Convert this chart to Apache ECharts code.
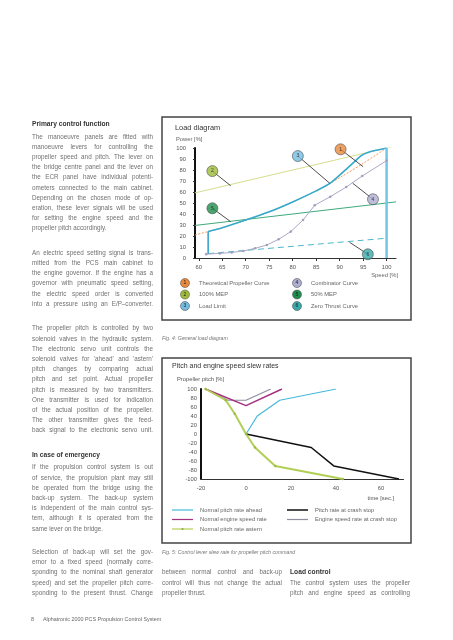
<!DOCTYPE html>
<html><head><meta charset="utf-8">
<script src="https://cdn.jsdelivr.net/npm/echarts@6/dist/echarts.min.js"></script>
<style>
html,body{margin:0;padding:0;background:#fff;}
#page{position:relative;width:453px;height:640px;overflow:hidden;font-family:"Liberation Sans",Arial,sans-serif;color:#707070;}
.ln{position:absolute;white-space:nowrap;font-size:6.3px;line-height:10px;height:10px;}
.h{font-weight:bold;color:#333;font-size:6.7px;}
.cap{font-style:italic;font-size:5.2px;color:#777;}
.foot{font-size:5.4px;color:#666;}
#chart{position:absolute;left:0;top:0;width:453px;height:640px;}
</style></head>
<body><div id="page"><div id="chart"></div></div>
<script>
// ---------- Load diagram data (speed %, power %) ----------
const xTicks1 = [60, 65, 70, 75, 80, 85, 90, 95, 100];
const propCurve = [[59.2,21],[62,24],[65,27.5],[70,34.3],[75,42],[80,51],[85,61],[90,73],[95,86],[100,100]];
const mep100 = [[59.2,59.2],[102,102]];
const mep50 = [[59.2,29.6],[102,51]];
const loadLimit = [[62,24],[65,27.5],[70,34.5],[75,42],[80,51],[85,61],[88,68],[92,83],[94.6,93],[96,96],[100,100]];
const loadLimitLow = [[62,4],[62,24]];
const loadLimitMax = [[100,100],[100,0]];
const combinator = [[61.6,3.5],[64.5,4.2],[67,5],[69.5,6.4],[72,8.8],[74.5,11.8],[77,17],[79.6,24],[82.2,34.5],[84.7,48],[88,55.7],[91.4,64.5],[94.8,74.5],[100,88.5]];
const zeroThrust = [[62,4],[100,18]];
const calloutNums = ['1','2','3','4','5','6'];
const calloutPos = [[90.2,98.8],[62.9,79],[81.1,92.7],[97.1,53.4],[62.9,45.2],[96,3.4]];
const calloutEnd = [[95,83],[66.8,65.7],[87.9,67.9],[92.8,67.9],[66.8,33],[92.1,14.3]];
const calloutColors = ['#e8893c','#9fbb3c','#74bde0','#aeaed2','#1f8d4c','#3aa9aa'];
const legend1Names = ['Theoretical Propeller Curve','100% MEP','Load Limit','Combinator Curve','50% MEP','Zero Thrust Curve'];

// ---------- Slew rate data (time s, pitch %) ----------
const xTicks2 = [-20, 0, 20, 40, 60];
const pitchAhead = [[0,0],[5,40],[15,75],[40,100]];
const engineNormal = [[-18,100],[0,63],[16,100]];
const pitchAstern = [[-18,100],[-9,75],[-5,45],[0,0],[4,-30],[13,-71],[43,-100]];
const pitchCrash = [[0,0],[29,-30],[39,-71],[68,-100]];
const engineCrash = [[-18,100],[-8,75],[0,75],[11,100]];
const legend2Names = ['Normal pitch rate ahead','Normal engine speed rate','Normal pitch rate astern','Pitch rate at crash stop','Engine speed rate at crash stop'];
const legend2Colors = ['#45b9dc','#a4307f','#b2cf55','#111111','#8f8fa0'];

// ---------- body text ----------
const page = document.getElementById('page');
const LH = 10.2, PG = 24.5, HG = 12.5;
function put(x, yc, text, cls, w) {
  const d = document.createElement('div');
  d.className = 'ln ' + cls;
  d.textContent = text;
  d.style.left = x + 'px';
  d.style.top = (yc - 5) + 'px';
  page.appendChild(d);
  if (w) {
    const nat = d.getBoundingClientRect().width;
    const n = (text.match(/ /g) || []).length;
    if (n) d.style.wordSpacing = ((w - nat) / n) + 'px';
  }
}
function para(x, y, w, lines, lastJust) {
  lines.forEach((t, i) => put(x, y + i * LH, t, '', (i < lines.length - 1 || lastJust) ? w : 0));
  return y + (lines.length - 1) * LH;
}
const LX = 32, LW = 121;
let y = 124;
put(LX, y, 'Primary control function', 'h');
y = para(LX, y + HG, LW, [
 'The manoeuvre panels are fitted with','manoeuvre levers for controlling the','propeller speed and pitch. The lever on',
 'the bridge centre panel and the lever on','the ECR panel have individual potenti-','ometers connected to the main cabinet.',
 'Depending on the chosen mode of op-','eration, these lever signals will be used','for setting the engine speed and the',
 'propeller pitch accordingly.']);
y = para(LX, y + PG, LW, [
 'An electric speed setting signal is trans-','mitted from the PCS main cabinet to','the engine governor. If the engine has a',
 'governor with pneumatic speed setting,','the electric speed order is converted','into a pressure using an E/P–converter.'], true);
y = para(LX, y + PG, LW, [
 'The propeller pitch is controlled by two','solenoid valves in the hydraulic system.','The electronic servo unit controls the',
 "solenoid valves for 'ahead' and 'astern'",'pitch changes by comparing actual','pitch and set point. Actual propeller',
 'pitch is measured by two transmitters.','One transmitter is used for indication','of the actual position of the propeller.',
 'The other transmitter gives the feed-','back signal to the electronic servo unit.'], true);
y += PG;
put(LX, y, 'In case of emergency', 'h');
y = para(LX, y + HG, LW, [
 'If the propulsion control system is out','of service, the propulsion plant may still','be operated from the bridge using the',
 'back-up system. The back-up system','is independent of the main control sys-','tem, although it is operated from the',
 'same lever on the bridge.']);
const ySel = y + PG - 1;
para(LX, ySel, LW, [
 'Selection of back-up will set the gov-','ernor to a fixed speed (normally corre-','sponding to the nominal shaft generator',
 'speed) and set the propeller pitch corre-','sponding to the present thrust. Change'], true);
para(162, ySel + 2 * LH, 120, ['between normal control and back-up','control will thus not change the actual','propeller thrust.']);
put(290, ySel + 2 * LH, 'Load control', 'h');
para(290, ySel + 3 * LH, 120, ['The control system uses the propeller','pitch and engine speed as controlling'], true);
put(162, 338, 'Fig. 4: General load diagram', 'cap');
put(162, ySel, 'Fig. 5: Control lever slew rate for propeller pitch command', 'cap');
put(31, 619, '8', 'foot');
put(43, 619, 'Alphatronic 2000 PCS Propulsion Control System', 'foot');

// ---------- chart ----------
const FF = '"Liberation Sans", Arial, sans-serif';
const chart = echarts.init(document.getElementById('chart'), null, {renderer: 'canvas'});
const txt = (x, yy, t, size, color, align, weight) => ({type: 'text', silent: true, z: 10,
  style: {x: x, y: yy, text: t, fill: color, font: (weight || 'normal') + ' ' + size + 'px ' + FF, textAlign: align || 'left', textVerticalAlign: 'middle'}});
const graphics = [
  {type: 'rect', silent: true, shape: {x: 162, y: 117, width: 249, height: 203}, style: {fill: 'none', stroke: '#444', lineWidth: 1.5}},
  {type: 'rect', silent: true, shape: {x: 162, y: 358, width: 249, height: 185}, style: {fill: 'none', stroke: '#444', lineWidth: 1.5}},
  txt(175, 128, 'Load diagram', 7.4, '#333'),
  txt(176, 139.5, 'Power [%]', 5.8, '#666'),
  txt(398, 275.5, 'Speed [%]', 5.8, '#666', 'right'),
  txt(172, 366, 'Pitch and engine speed slew rates', 7, '#333'),
  txt(177, 379, 'Propeller pitch [%]', 5.8, '#555'),
  txt(394, 498, 'time [sec.]', 5.8, '#555', 'right')
];
legend1Names.forEach((n, i) => {
  const col = i < 3 ? 0 : 1, row = i % 3;
  const cx = col ? 297 : 185, cy = 283 + row * 11.5;
  graphics.push({type: 'circle', silent: true, z: 10, shape: {cx: cx, cy: cy, r: 4.5},
    style: {fill: calloutColors[i], stroke: '#555', lineWidth: 0.6}});
  graphics.push(txt(cx, cy, calloutNums[i], 5, '#222', 'center'));
  graphics.push(txt(cx + 14, cy, n, 5.8, '#666'));
});
legend2Names.forEach((n, i) => {
  const col = i < 3 ? 0 : 1, row = i % 3;
  const x0 = col ? 287 : 172, cy = 510 + row * 9.5;
  graphics.push({type: 'line', silent: true, z: 10, shape: {x1: x0, y1: cy, x2: x0 + 21, y2: cy},
    style: {stroke: legend2Colors[i], lineWidth: i === 3 ? 1.5 : 1.2}});
  if (i === 2) graphics.push({type: 'circle', silent: true, z: 11, shape: {cx: x0 + 10.5, cy: cy, r: 1}, style: {fill: '#8aa83a'}});
  graphics.push(txt(x0 + 28, cy, n, 5.8, '#666'));
});

const lineS = (data, color, width, extra, gi) => Object.assign({type: 'line', data: data, xAxisIndex: gi || 0, yAxisIndex: gi || 0,
  symbol: 'none', silent: true, lineStyle: {color: color, width: width}, itemStyle: {color: color}}, extra || {});

const option = {
  animation: false,
  backgroundColor: 'transparent',
  grid: [{left: 195, top: 148, width: 201, height: 110}, {left: 201, top: 389, width: 202.5, height: 90}],
  xAxis: [
    {gridIndex: 0, type: 'value', min: 59.2, max: 102, splitLine: {show: false},
     axisLine: {onZero: false, lineStyle: {color: '#333', width: 1}},
     axisTick: {customValues: xTicks1, length: 3, lineStyle: {color: '#333'}},
     axisLabel: {customValues: xTicks1, fontSize: 5.8, color: '#555', margin: 6, fontFamily: FF}},
    {gridIndex: 1, type: 'value', min: -20, max: 70, interval: 20, splitLine: {show: false},
     axisLine: {onZero: false, lineStyle: {color: '#333', width: 1.2}},
     axisTick: {show: false},
     axisLabel: {customValues: xTicks2, fontSize: 5.8, color: '#555', margin: 6, fontFamily: FF}}
  ],
  yAxis: [
    {gridIndex: 0, type: 'value', min: 0, max: 100, interval: 10, splitLine: {show: false},
     axisLine: {show: true, onZero: false, lineStyle: {color: '#111', width: 2}},
     axisTick: {show: true, length: 2, lineStyle: {color: '#333'}},
     axisLabel: {fontSize: 5.8, color: '#555', margin: 9, fontFamily: FF}},
    {gridIndex: 1, type: 'value', min: -100, max: 100, interval: 20, splitLine: {show: false},
     axisLine: {show: true, onZero: false, lineStyle: {color: '#111', width: 2}},
     axisTick: {show: false},
     axisLabel: {fontSize: 5.8, color: '#555', margin: 4, fontFamily: FF}}
  ],
  graphic: graphics,
  series: [
    lineS(mep100, '#d6dc8e', 1),
    lineS(mep50, '#3caa7a', 1),
    lineS(propCurve, '#f09a5c', 1, {smooth: 0.3, lineStyle: {color: '#f09a5c', width: 1, type: [2, 1.5]}}),
    lineS(zeroThrust, '#4cb7c9', 1, {lineStyle: {color: '#4cb7c9', width: 1, type: [6, 4]}}),
    lineS(combinator, '#aba7c6', 1, {symbol: 'circle', symbolSize: 2.6, itemStyle: {color: '#a4a0be'}}),
    lineS(loadLimit, '#36a9cc', 1.6, {smooth: 0.25}),
    lineS(loadLimitLow, '#36a9cc', 1.6),
    lineS(loadLimitMax, '#6fc7ea', 2.5),
    {type: 'lines', coordinateSystem: 'cartesian2d', xAxisIndex: 0, yAxisIndex: 0, silent: true, z: 5,
     lineStyle: {color: '#222', width: 0.8, opacity: 1},
     data: calloutPos.map((p, i) => ({coords: [p, calloutEnd[i]]}))},
    {type: 'scatter', xAxisIndex: 0, yAxisIndex: 0, silent: true, z: 6, symbolSize: 11,
     data: calloutPos.map((p, i) => ({value: p, itemStyle: {color: calloutColors[i]}})),
     itemStyle: {borderColor: '#444', borderWidth: 0.7},
     label: {show: true, position: 'inside', formatter: (p) => calloutNums[p.dataIndex], fontSize: 5, color: '#222', fontFamily: FF}},
    lineS(engineCrash, legend2Colors[4], 1.2, {}, 1),
    lineS(engineNormal, legend2Colors[1], 1.5, {}, 1),
    lineS(pitchAhead, legend2Colors[0], 1.2, {}, 1),
    lineS(pitchCrash, legend2Colors[3], 1.5, {}, 1),
    lineS(pitchAstern, legend2Colors[2], 2, {symbol: 'circle', symbolSize: 2.5, itemStyle: {color: '#9cbc44'}}, 1)
  ]
};
chart.setOption(option);
</script>
</body></html>
